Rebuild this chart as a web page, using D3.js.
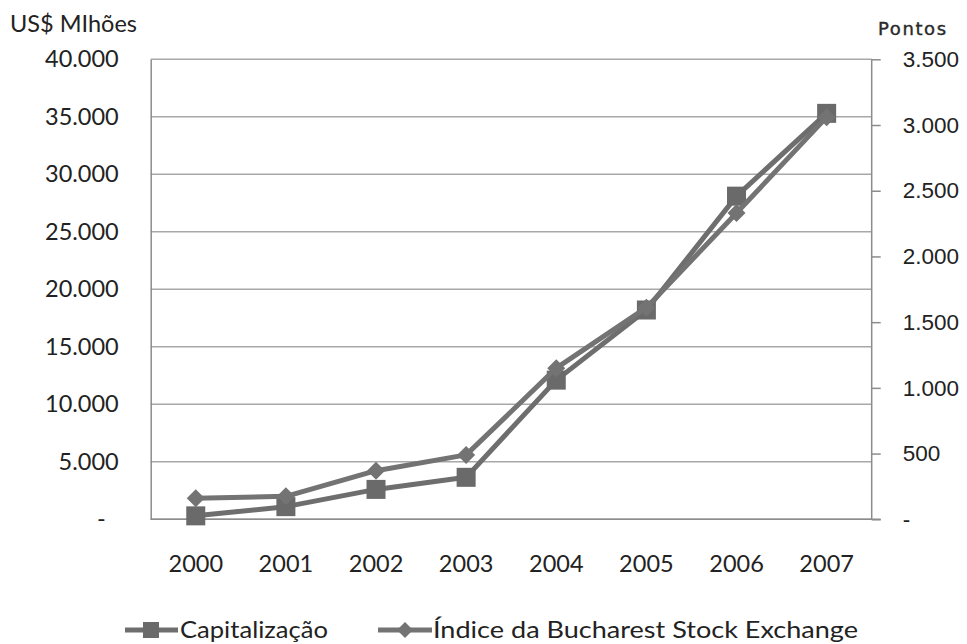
<!DOCTYPE html>
<html>
<head>
<meta charset="utf-8">
<script src="https://cdn.jsdelivr.net/npm/d3@7/dist/d3.min.js"></script>
<style>
  html, body { margin: 0; padding: 0; background: #fff; }
  svg { display: block; }
</style>
</head>
<body>
<svg id="chart" width="967" height="644"></svg>
<script>
// Bucharest Stock Exchange: market capitalisation (US$ millions) and index (points)
const years = ["2000", "2001", "2002", "2003", "2004", "2005", "2006", "2007"];
const capitalizacao = [300, 1100, 2600, 3650, 12100, 18200, 28100, 35300];
const indiceBVB = [160, 175, 370, 490, 1150, 1610, 2330, 3060];
const leftTicks = [0, 5000, 10000, 15000, 20000, 25000, 30000, 35000, 40000];
const rightTicks = [0, 500, 1000, 1500, 2000, 2500, 3000, 3500];
const seriesNames = ["Capitalização", "Índice da Bucharest Stock Exchange"];

const svg = d3.select("#chart");
const x0 = 150.7, x1 = 871.7, yTop = 59.3, yBot = 519.3;

const locale = d3.formatLocale({ decimal: ",", thousands: ".", grouping: [3], currency: ["", ""] });
const fmt = locale.format(",d");
const tickFmt = d => d === 0 ? "-" : fmt(d);

const x = d3.scaleBand().domain(years).range([x0, x1]).paddingInner(0).paddingOuter(0);
const yL = d3.scaleLinear().domain([0, 40000]).range([yBot, yTop]);
const yR = d3.scaleLinear().domain([0, 3500]).range([yBot, yTop]);

const gray = "#6e6e6e";
const labelFont = "Lato, 'Open Sans', sans-serif";

// horizontal gridlines
svg.append("g")
  .selectAll("line")
  .data(leftTicks)
  .join("line")
  .attr("x1", x0).attr("x2", x1)
  .attr("y1", d => yL(d)).attr("y2", d => yL(d))
  .attr("stroke", "#a8a8a8").attr("stroke-width", 1.5);

// left axis
const gL = svg.append("g")
  .attr("transform", `translate(${x0},0)`)
  .call(d3.axisLeft(yL).tickValues(leftTicks).tickFormat(tickFmt).tickSize(0).tickPadding(32));
gL.select(".domain").attr("stroke", "#8c8c8c").attr("stroke-width", 1.5);
gL.selectAll("text")
  .attr("font-family", labelFont).attr("font-size", 23.5).attr("fill", "#222")
  .attr("dx", d => d === 0 ? -13 : 0);

// right axis
const gR = svg.append("g")
  .attr("transform", `translate(${x1},0)`)
  .call(d3.axisRight(yR).tickValues(rightTicks).tickFormat(tickFmt).tickSize(9).tickPadding(22));
gR.select(".domain").attr("stroke", "#8c8c8c").attr("stroke-width", 1.5).attr("d", `M0,${yTop}V${yBot}`);
gR.selectAll(".tick line").attr("stroke", "#8c8c8c").attr("stroke-width", 1.5);
gR.selectAll("text")
  .attr("font-family", "'Liberation Sans', Arial, sans-serif").attr("font-size", 22.5).attr("fill", "#222");

// bottom axis
const gB = svg.append("g")
  .attr("transform", `translate(0,${yBot})`)
  .call(d3.axisBottom(x).tickSize(0));
gB.select(".domain").attr("stroke", "#8c8c8c").attr("stroke-width", 1.5).attr("d", `M${x0},0H${x1 + 9}`);
gB.selectAll("text")
  .attr("font-family", labelFont).attr("font-size", 23.5).attr("fill", "#222")
  .attr("y", 44).attr("dy", "0.35em");

// axis titles
svg.append("text")
  .attr("x", 10).attr("y", 32)
  .attr("font-family", labelFont).attr("font-size", 23).attr("fill", "#222")
  .attr("textLength", 127).attr("lengthAdjust", "spacingAndGlyphs")
  .text("US$ MIhões");
svg.append("text")
  .attr("x", 878).attr("y", 35)
  .attr("font-family", "'DejaVu Sans', Verdana, sans-serif").attr("font-size", 18)
  .attr("letter-spacing", 1.6).attr("fill", "#2a2a2a")
  .attr("stroke", "#2a2a2a").attr("stroke-width", 0.4)
  .text("Pontos");

const cx = d => x(d) + x.bandwidth() / 2;

// Capitalização (left scale)
const capPts = years.map((yr, i) => [cx(yr), yL(capitalizacao[i])]);
svg.append("path")
  .attr("d", d3.line()(capPts))
  .attr("fill", "none").attr("stroke", gray).attr("stroke-width", 5).attr("stroke-linejoin", "round");
svg.append("g").selectAll("rect")
  .data(capPts).join("rect")
  .attr("x", d => d[0] - 9.5).attr("y", d => d[1] - 9.5)
  .attr("width", 19).attr("height", 19)
  .attr("fill", "#6a6a6a");

// Índice BVB (right scale)
const idxPts = years.map((yr, i) => [cx(yr), yR(indiceBVB[i])]);
svg.append("path")
  .attr("d", d3.line()(idxPts))
  .attr("fill", "none").attr("stroke", "#737373").attr("stroke-width", 5).attr("stroke-linejoin", "round");
const diamond = (px, py, r) => `M${px},${py - r}L${px + r},${py}L${px},${py + r}L${px - r},${py}Z`;
svg.append("g").selectAll("path")
  .data(idxPts).join("path")
  .attr("d", d => diamond(d[0], d[1], 9))
  .attr("fill", "#737373");

// legend
const legY = 630;
const leg = svg.append("g");
leg.append("line").attr("x1", 125).attr("x2", 178).attr("y1", legY).attr("y2", legY)
  .attr("stroke", gray).attr("stroke-width", 5);
leg.append("rect").attr("x", 151 - 8).attr("y", legY - 8).attr("width", 16).attr("height", 16).attr("fill", "#6a6a6a");
leg.append("text").attr("x", 180).attr("y", legY).attr("dy", "0.35em")
  .attr("font-family", labelFont).attr("font-size", 24).attr("fill", "#222")
  .attr("textLength", 148).attr("lengthAdjust", "spacingAndGlyphs")
  .text(seriesNames[0]);
leg.append("line").attr("x1", 378).attr("x2", 432).attr("y1", legY).attr("y2", legY)
  .attr("stroke", "#737373").attr("stroke-width", 5);
leg.append("path").attr("d", diamond(405, legY, 8)).attr("fill", "#737373");
leg.append("text").attr("x", 433).attr("y", legY).attr("dy", "0.35em")
  .attr("font-family", labelFont).attr("font-size", 24).attr("fill", "#222")
  .attr("textLength", 425).attr("lengthAdjust", "spacingAndGlyphs")
  .text(seriesNames[1]);
</script>
</body>
</html>
